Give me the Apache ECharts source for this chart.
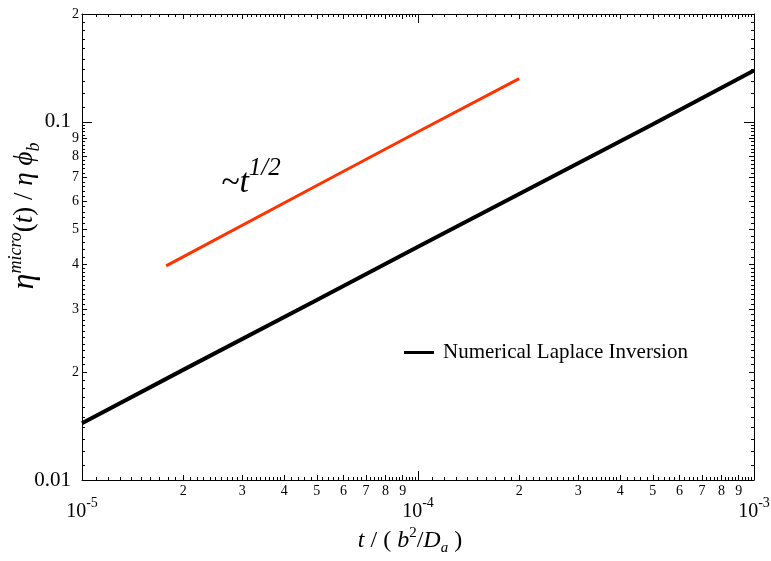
<!DOCTYPE html>
<html>
<head>
<meta charset="utf-8">
<script src="https://cdn.jsdelivr.net/npm/echarts@6/dist/echarts.min.js"></script>
<style>
  html, body { margin: 0; padding: 0; background: #ffffff; }
  #chart { width: 771px; height: 561px; }
</style>
</head>
<body>
<div id="chart"></div>
<script>
// Numerical Laplace inversion of the micro viscosity
const timeValues    = [1e-5, 2e-5, 5e-5, 1e-4, 2e-4, 5e-4, 1e-3];
const laplaceValues = [0.0144, 0.0203, 0.0318, 0.0448, 0.0629, 0.0985, 0.139];

// Reference slope line ~ t^(1/2)
const slopeTimes  = [1.78e-5, 5e-5, 1e-4, 2e-4];
const slopeValues = [0.0396, 0.0664, 0.0938, 0.132];

// Axis ranges and tick labels
const xRange = [1e-5, 1e-3];
const yRange = [0.01, 0.2];
const xDecadeTicks = [-5, -4, -3];          // log10 positions labelled 10^n
const yDecadeTicks = [-2, -1];              // log10 positions labelled 0.01, 0.1
const mantissaTicks = [2, 3, 4, 5, 6, 7, 8, 9];

const legendLabel = 'Numerical Laplace Inversion';

const SERIF = "'Liberation Serif', 'Times New Roman', serif";
const lg = Math.log10;

// tick positions (in log10 units) for the overlay axes
function mantissaPositions(decades) {
  const out = [];
  decades.forEach(d => mantissaTicks.forEach(k => out.push(d + lg(k))));
  return out;
}
function finePositions(decades) {
  const out = [];
  decades.forEach(d => {
    for (let i = 11; i < 40; i++) if (i % 10) out.push(d + lg(i / 10));
    for (let i = 42; i < 100; i += 2) if (i % 10) out.push(d + lg(i / 10));
  });
  return out;
}
const xMid = mantissaPositions([-5, -4]);
const xFine = finePositions([-5, -4]);
const yMid = mantissaPositions([-2]).concat([-1 + lg(2)]);
const yFine = finePositions([-2]).concat(
  [11, 12, 13, 14, 15, 16, 17, 18, 19].map(i => -1 + lg(i / 10)));

const xLogMin = lg(xRange[0]), xLogMax = lg(xRange[1]);
const yLogMin = lg(yRange[0]), yLogMax = lg(yRange[1]);

function mantissaOf(v) {
  const f = v - Math.floor(v + 1e-9);
  return String(Math.round(Math.pow(10, f)));
}

// an overlay axis that only draws ticks (and optionally labels)
function tickAxis(position, min, max, values, len, labelOpt) {
  const ax = {
    type: 'value', gridIndex: 0, position: position, min: min, max: max,
    axisLine: { show: false },
    splitLine: { show: false },
    axisTick: { show: true, inside: true, length: len, customValues: values,
                lineStyle: { color: '#000', width: 1 } },
    axisLabel: { show: false }
  };
  if (labelOpt) {
    ax.axisLabel = Object.assign({ show: true, customValues: values, color: '#000',
                                   fontFamily: SERIF }, labelOpt);
  }
  return ax;
}
function framed(ax) {
  ax.axisLine = { show: true, lineStyle: { color: '#000', width: 1 } };
  return ax;
}

const chart = echarts.init(document.getElementById('chart'), null, { renderer: 'canvas' });

const xAxes = [
  {
    type: 'log', logBase: 10, min: xRange[0], max: xRange[1], position: 'bottom',
    axisLine: { show: true, lineStyle: { color: '#000', width: 1 } },
    axisTick: { show: false }, axisLabel: { show: false }, splitLine: { show: false },
    name: '{i|t}{n| / ( }{i|b}{sup|2}{n|/}{i|D}{sub|a}{n| )}',
    nameLocation: 'middle', nameGap: 46,
    nameTextStyle: {
      padding: [0, 16, 0, 0],
      rich: {
        i: { fontFamily: SERIF, fontStyle: 'italic', fontSize: 24, color: '#000', lineHeight: 30 },
        n: { fontFamily: SERIF, fontSize: 24, color: '#000', lineHeight: 30 },
        sup: { fontFamily: SERIF, fontSize: 15, color: '#000', verticalAlign: 'top', lineHeight: 30 },
        sub: { fontFamily: SERIF, fontStyle: 'italic', fontSize: 15, color: '#000', verticalAlign: 'bottom', lineHeight: 30 }
      }
    }
  },
  tickAxis('bottom', xLogMin, xLogMax, xDecadeTicks, 9, {
    margin: 16,
    formatter: v => '{b|10}{s|' + v + '}',
    rich: {
      b: { fontFamily: SERIF, fontSize: 20, color: '#000', lineHeight: 26, verticalAlign: 'bottom' },
      s: { fontFamily: SERIF, fontSize: 14, color: '#000', lineHeight: 26, verticalAlign: 'top' }
    }
  }),
  tickAxis('bottom', xLogMin, xLogMax, xMid, 5, {
    margin: 4, fontSize: 14, formatter: v => mantissaOf(v)
  }),
  tickAxis('bottom', xLogMin, xLogMax, xFine, 3),
  // mirrored frame on top
  framed(tickAxis('top', xLogMin, xLogMax, xDecadeTicks, 9)),
  tickAxis('top', xLogMin, xLogMax, xMid, 5),
  tickAxis('top', xLogMin, xLogMax, xFine, 3)
];

const yAxes = [
  {
    type: 'log', logBase: 10, min: yRange[0], max: yRange[1], position: 'left',
    axisLine: { show: true, lineStyle: { color: '#000', width: 1 } },
    axisTick: { show: false }, axisLabel: { show: false }, splitLine: { show: false },
    name: '{big|η}{sup|micro}{n|(}{i|t}{n|) / }{i|η ϕ}{sub|b}',
    nameLocation: 'middle', nameGap: 39, nameRotate: 90,
    nameTextStyle: {
      padding: [0, 0, 0, 62],
      rich: {
        big: { fontFamily: SERIF, fontStyle: 'italic', fontSize: 32, color: '#000', lineHeight: 36 },
        i: { fontFamily: SERIF, fontStyle: 'italic', fontSize: 27, color: '#000', lineHeight: 36 },
        n: { fontFamily: SERIF, fontSize: 27, color: '#000', lineHeight: 36 },
        sup: { fontFamily: SERIF, fontStyle: 'italic', fontSize: 18, color: '#000', verticalAlign: 'top', lineHeight: 36 },
        sub: { fontFamily: SERIF, fontStyle: 'italic', fontSize: 18, color: '#000', verticalAlign: 'bottom', lineHeight: 36 }
      }
    }
  },
  tickAxis('left', yLogMin, yLogMax, yDecadeTicks, 10, {
    margin: 11, fontSize: 21,
    formatter: v => String(Number(Math.pow(10, v).toFixed(2)))
  }),
  tickAxis('left', yLogMin, yLogMax, yMid, 5, {
    margin: 3, fontSize: 14, formatter: v => mantissaOf(v)
  }),
  tickAxis('left', yLogMin, yLogMax, yFine, 3),
  framed(tickAxis('right', yLogMin, yLogMax, yDecadeTicks, 10)),
  tickAxis('right', yLogMin, yLogMax, yMid, 5),
  tickAxis('right', yLogMin, yLogMax, yFine, 3)
];

chart.setOption({
  animation: false,
  backgroundColor: '#ffffff',
  grid: { left: 82, right: 17, top: 14, bottom: 81, containLabel: false, outerBoundsMode: 'none' },
  xAxis: xAxes,
  yAxis: yAxes,
  legend: {
    left: 404, top: 342, padding: 0,
    itemWidth: 30, itemHeight: 3, itemGap: 10,
    data: [{ name: legendLabel, icon: 'rect' }],
    textStyle: { fontFamily: SERIF, fontSize: 21, color: '#000', padding: [0, 0, 0, 4] }
  },
  graphic: [{
    type: 'text', left: 221, top: 156,
    style: {
      text: '{t|~t}{s|1/2}',
      rich: {
        t: { fontFamily: SERIF, fontStyle: 'italic', fontSize: 34, fill: '#000', lineHeight: 44, verticalAlign: 'bottom' },
        s: { fontFamily: SERIF, fontStyle: 'italic', fontSize: 25, fill: '#000', lineHeight: 44, verticalAlign: 'top' }
      }
    }
  }],
  series: [
    {
      name: legendLabel, type: 'line', xAxisIndex: 0, yAxisIndex: 0,
      data: timeValues.map((t, i) => [t, laplaceValues[i]]),
      showSymbol: false, symbol: 'none', smooth: false,
      lineStyle: { color: '#000', width: 4 }, itemStyle: { color: '#000' }
    },
    {
      name: 'slope', type: 'line', xAxisIndex: 0, yAxisIndex: 0,
      data: slopeTimes.map((t, i) => [t, slopeValues[i]]),
      showSymbol: false, symbol: 'none',
      lineStyle: { color: '#ff3300', width: 3 }, itemStyle: { color: '#ff3300' }
    }
  ]
});
</script>
</body>
</html>
